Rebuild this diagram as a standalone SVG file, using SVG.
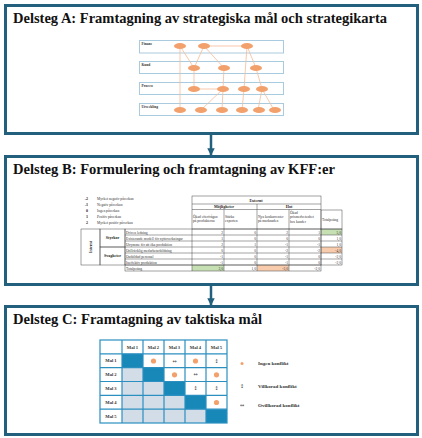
<svg xmlns="http://www.w3.org/2000/svg" width="422" height="438" viewBox="0 0 422 438">
<style>
.box{fill:#fff;stroke:#22607e;stroke-width:3}
.title{font-family:"Liberation Serif","Times New Roman",serif;font-weight:bold;font-size:15px;fill:#111}
.band{fill:#fff;stroke:#a9cbe0;stroke-width:1}
.bl{font-family:"Liberation Serif",serif;font-weight:bold;font-size:3.6px;fill:#333}
.ell{fill:#f2a16d}
.ln{stroke:#f5bb98;stroke-width:0.8;fill:none}
.conn{stroke:#22607e;stroke-width:2.5;fill:none}
.t{font-family:"Liberation Serif",serif;font-size:3.6px;fill:#333}
.tb{font-family:"Liberation Serif",serif;font-weight:bold;font-size:4px;fill:#222}
.n{font-family:"Liberation Serif",serif;font-size:3.6px;fill:#333;text-anchor:end}
.c{fill:none;stroke:#444;stroke-width:0.5}
.g{stroke:#2b8fc0;stroke-width:1.2;fill:none}
.mh{font-family:"Liberation Serif",serif;font-weight:bold;font-size:4.6px;fill:#333;text-anchor:middle}
.dot{fill:#f2a16d}
.sym{font-family:"DejaVu Sans",sans-serif;font-size:5px;fill:#444;text-anchor:middle}
.lg{font-family:"Liberation Serif",serif;font-weight:bold;font-size:5px;fill:#333}
</style>
<defs>
<marker id="ah" viewBox="0 0 10 10" refX="9" refY="5" markerWidth="3" markerHeight="3" orient="auto" markerUnits="strokeWidth">
<path d="M0,0 L10,5 L0,10 z" fill="#22607e"/>
</marker>
</defs>

<g id="connectors">
<line class="conn" x1="211" y1="134" x2="211" y2="155" marker-end="url(#ah)"/>
<line class="conn" x1="211" y1="285" x2="211" y2="305" marker-end="url(#ah)"/>
</g>

<g id="stepA">
<rect class="box" x="5.5" y="5.5" width="412" height="128"/>
<text class="title" x="13" y="23" textLength="374" lengthAdjust="spacingAndGlyphs">Delsteg A: Framtagning av strategiska mål och strategikarta</text>
<rect class="band" x="139.5" y="40.5" width="144" height="12.5"/>
<rect class="band" x="139.5" y="61.5" width="144" height="12"/>
<rect class="band" x="139.5" y="82.5" width="144" height="12"/>
<rect class="band" x="139.5" y="103.5" width="144" height="12"/>
<text class="bl" x="141.5" y="45">Finans</text>
<text class="bl" x="141.5" y="66">Kund</text>
<text class="bl" x="141.5" y="87">Process</text>
<text class="bl" x="141.5" y="108">Utveckling</text>
<g>
<line class="ln" x1="180" y1="46" x2="180" y2="110"/>
<line class="ln" x1="180" y1="46" x2="194" y2="68"/>
<line class="ln" x1="204" y1="46" x2="194" y2="68"/>
<line class="ln" x1="204" y1="46" x2="224" y2="68"/>
<line class="ln" x1="204" y1="46" x2="247" y2="46"/>
<line class="ln" x1="247" y1="46" x2="244" y2="89"/>
<line class="ln" x1="247" y1="46" x2="256" y2="68"/>
<line class="ln" x1="256" y1="68" x2="262" y2="89"/>
<line class="ln" x1="194" y1="68" x2="194" y2="89"/>
<line class="ln" x1="224" y1="68" x2="223" y2="89"/>
<line class="ln" x1="194" y1="89" x2="223" y2="89"/>
<line class="ln" x1="223" y1="89" x2="201" y2="110"/>
<line class="ln" x1="223" y1="89" x2="222" y2="110"/>
<line class="ln" x1="244" y1="89" x2="242" y2="110"/>
<line class="ln" x1="262" y1="89" x2="258" y2="110"/>
<line class="ln" x1="262" y1="89" x2="274" y2="110"/>
</g>
<g>
<ellipse class="ell" cx="180" cy="46" rx="6" ry="3"/>
<ellipse class="ell" cx="204" cy="46" rx="6" ry="3"/>
<ellipse class="ell" cx="247" cy="46" rx="6" ry="3"/>
<ellipse class="ell" cx="194" cy="68" rx="6" ry="3"/>
<ellipse class="ell" cx="224" cy="68" rx="6" ry="3"/>
<ellipse class="ell" cx="256" cy="68" rx="6" ry="3"/>
<ellipse class="ell" cx="194" cy="89" rx="6" ry="3"/>
<ellipse class="ell" cx="223" cy="89" rx="6" ry="3"/>
<ellipse class="ell" cx="244" cy="89" rx="6" ry="3"/>
<ellipse class="ell" cx="262" cy="89" rx="6" ry="3"/>
<ellipse class="ell" cx="180" cy="110" rx="6" ry="3"/>
<ellipse class="ell" cx="201" cy="110" rx="6" ry="3"/>
<ellipse class="ell" cx="222" cy="110" rx="6" ry="3"/>
<ellipse class="ell" cx="242" cy="110" rx="6" ry="3"/>
<ellipse class="ell" cx="259" cy="110" rx="6" ry="3"/>
<ellipse class="ell" cx="275" cy="110" rx="6" ry="3"/>
</g>
</g>

<g id="stepB">
<rect class="box" x="5.5" y="156.5" width="412" height="128"/>
<text class="title" x="13" y="174" textLength="322" lengthAdjust="spacingAndGlyphs">Delsteg B: Formulering och framtagning av KFF:er</text>
<text class="tb" x="88" y="199.5" text-anchor="end">-2</text><text class="t" x="97" y="199.5">Mycket negativ påverkan</text>
<text class="tb" x="88" y="205.5" text-anchor="end">-1</text><text class="t" x="97" y="205.5">Negativ påverkan</text>
<text class="tb" x="88" y="211.8" text-anchor="end">0</text><text class="t" x="97" y="211.8">Ingen påverkan</text>
<text class="tb" x="88" y="218" text-anchor="end">1</text><text class="t" x="97" y="218">Positiv påverkan</text>
<text class="tb" x="88" y="224.3" text-anchor="end">2</text><text class="t" x="97" y="224.3">Mycket positiv påverkan</text>
<rect x="321" y="229" width="21" height="6" fill="#c6e0b4"/>
<rect x="321" y="247" width="21" height="6" fill="#f8cbad"/>
<rect x="192" y="265" width="32" height="6" fill="#c6e0b4"/>
<rect x="257" y="265" width="32" height="6" fill="#f8cbad"/>
<rect class="c" x="192" y="196" width="129" height="33"/>
<line class="c" x1="192" y1="204" x2="321" y2="204"/>
<line class="c" x1="192" y1="209.5" x2="321" y2="209.5"/>
<line class="c" x1="257" y1="204" x2="257" y2="229"/>
<line class="c" x1="224" y1="209.5" x2="224" y2="229"/>
<line class="c" x1="289" y1="209.5" x2="289" y2="229"/>
<rect class="c" x="321" y="210" width="21" height="19"/>
<text class="tb" x="256" y="202" text-anchor="middle" font-size="5.5">Externt</text>
<text class="tb" x="224" y="208" text-anchor="middle" font-size="3.8">Möjligheter</text>
<text class="tb" x="289" y="208" text-anchor="middle" font-size="3.8">Hot</text>
<text class="t" x="193" y="218">Ökad efterfrågan</text><text class="t" x="193" y="222">på produkterna</text>
<text class="t" x="225" y="218">Stärka</text><text class="t" x="225" y="222">exporten</text>
<text class="t" x="258" y="218">Nya konkurrenter</text><text class="t" x="258" y="222">på marknaden</text>
<text class="t" x="290" y="213.5">Ökad</text><text class="t" x="290" y="218">prismedvetenhet</text><text class="t" x="290" y="222.5">hos kunder</text>
<text class="t" x="322" y="221">Totalpoäng</text>
<rect class="c" x="81" y="229" width="19" height="36" stroke-width="0.8"/>
<rect class="c" x="100" y="229" width="25" height="18"/>
<rect class="c" x="100" y="247" width="25" height="18"/>
<rect class="c" x="125" y="229" width="196" height="36"/>
<rect class="c" x="321" y="229" width="21" height="36"/>
<line class="c" x1="125" y1="235" x2="342" y2="235"/>
<line class="c" x1="125" y1="241" x2="342" y2="241"/>
<line class="c" x1="125" y1="247" x2="342" y2="247"/>
<line class="c" x1="125" y1="253" x2="342" y2="253"/>
<line class="c" x1="125" y1="259" x2="342" y2="259"/>
<line class="c" x1="192" y1="229" x2="192" y2="271"/>
<line class="c" x1="224" y1="229" x2="224" y2="271"/>
<line class="c" x1="257" y1="229" x2="257" y2="271"/>
<line class="c" x1="289" y1="229" x2="289" y2="271"/>
<rect class="c" x="125" y="265" width="196" height="6"/>
<text class="tb" transform="translate(92,247) rotate(-90)" text-anchor="middle" font-size="5.5">Internt</text>
<text class="tb" x="112.5" y="239" text-anchor="middle" font-size="3.8">Styrkor</text>
<text class="tb" x="112.5" y="257" text-anchor="middle" font-size="3.8">Svagheter</text>
<text class="t" x="126" y="233.7">Driven ledning</text>
<text class="t" x="126" y="239.7">Existerande modell för nyttoverkningar</text>
<text class="t" x="126" y="245.7">Utrymme för att öka produktion</text>
<text class="t" x="126" y="251.7">Otillräcklig medarbetarbildning</text>
<text class="t" x="126" y="257.7">Outbildad personal</text>
<text class="t" x="126" y="263.7">Ineffektiv produktion</text>
<text class="t" x="126" y="269.7">Totalpoäng</text>
<g>
<text class="n" x="223" y="233.7">2</text><text class="n" x="256" y="233.7">0</text><text class="n" x="288" y="233.7">2</text><text class="n" x="320" y="233.7">1</text><text class="n" x="341" y="233.7">5,0</text>
<text class="n" x="223" y="239.7">1</text><text class="n" x="256" y="239.7">0</text><text class="n" x="288" y="239.7">0</text><text class="n" x="320" y="239.7">0</text><text class="n" x="341" y="239.7">1,0</text>
<text class="n" x="223" y="245.7">2</text><text class="n" x="256" y="245.7">1</text><text class="n" x="288" y="245.7">-1</text><text class="n" x="320" y="245.7">-1</text><text class="n" x="341" y="245.7">1,0</text>
<text class="n" x="223" y="251.7">0</text><text class="n" x="256" y="251.7">0</text><text class="n" x="288" y="251.7">-2</text><text class="n" x="320" y="251.7">-2</text><text class="n" x="341" y="251.7">-4,0</text>
<text class="n" x="223" y="257.7">-1</text><text class="n" x="256" y="257.7">0</text><text class="n" x="288" y="257.7">-1</text><text class="n" x="320" y="257.7">0</text><text class="n" x="341" y="257.7">-2,0</text>
<text class="n" x="223" y="263.7">-1</text><text class="n" x="256" y="263.7">0</text><text class="n" x="288" y="263.7">-1</text><text class="n" x="320" y="263.7">0</text><text class="n" x="341" y="263.7">-2,0</text>
<text class="n" x="223" y="269.7">3,0</text><text class="n" x="256" y="269.7">1,0</text><text class="n" x="288" y="269.7">-3,0</text><text class="n" x="320" y="269.7">-2,0</text>
</g>
</g>

<g id="stepC">
<rect class="box" x="5.5" y="306.5" width="412" height="128"/>
<text class="title" x="13" y="324" textLength="249" lengthAdjust="spacingAndGlyphs">Delsteg C: Framtagning av taktiska mål</text>
<g fill="#d3dde8">
<rect x="122" y="367.7" width="21" height="13.8"/>
<rect x="122" y="381.5" width="21" height="13.8"/><rect x="143" y="381.5" width="21" height="13.8"/>
<rect x="122" y="395.3" width="21" height="13.8"/><rect x="143" y="395.3" width="21" height="13.8"/><rect x="164" y="395.3" width="21" height="13.8"/>
<rect x="122" y="409.2" width="21" height="13.8"/><rect x="143" y="409.2" width="21" height="13.8"/><rect x="164" y="409.2" width="21" height="13.8"/><rect x="185" y="409.2" width="21" height="13.8"/>
</g>
<g fill="#1888b8">
<rect x="122" y="353.8" width="21" height="13.9"/>
<rect x="143" y="367.7" width="21" height="13.8"/>
<rect x="164" y="381.5" width="21" height="13.8"/>
<rect x="185" y="395.3" width="21" height="13.9"/>
<rect x="206" y="409.2" width="21" height="13.8"/>
</g>
<g class="g">
<rect x="100" y="340" width="127" height="83"/>
<line x1="122" y1="340" x2="122" y2="423"/>
<line x1="143" y1="340" x2="143" y2="423"/>
<line x1="164" y1="340" x2="164" y2="423"/>
<line x1="185" y1="340" x2="185" y2="423"/>
<line x1="206" y1="340" x2="206" y2="423"/>
<line x1="100" y1="353.8" x2="227" y2="353.8"/>
<line x1="100" y1="367.7" x2="227" y2="367.7"/>
<line x1="100" y1="381.5" x2="227" y2="381.5"/>
<line x1="100" y1="395.3" x2="227" y2="395.3"/>
<line x1="100" y1="409.2" x2="227" y2="409.2"/>
</g>
<text class="mh" x="132.5" y="348.5">Mål 1</text>
<text class="mh" x="153.5" y="348.5">Mål 2</text>
<text class="mh" x="174.5" y="348.5">Mål 3</text>
<text class="mh" x="195.5" y="348.5">Mål 4</text>
<text class="mh" x="216.5" y="348.5">Mål 5</text>
<text class="mh" x="111" y="362.4">Mål 1</text>
<text class="mh" x="111" y="376.2">Mål 2</text>
<text class="mh" x="111" y="390">Mål 3</text>
<text class="mh" x="111" y="403.9">Mål 4</text>
<text class="mh" x="111" y="417.7">Mål 5</text>
<circle class="dot" cx="153.5" cy="361" r="2.6"/>
<text class="sym" x="174.5" y="362.6">↔</text>
<circle class="dot" cx="195.5" cy="361" r="2.6"/>
<text class="sym" x="216.5" y="362.6">↕</text>
<circle class="dot" cx="174.5" cy="374.8" r="2.6"/>
<text class="sym" x="195.5" y="376.4">↔</text>
<circle class="dot" cx="216.5" cy="374.8" r="2.6"/>
<text class="sym" x="195.5" y="390.2">↕</text>
<text class="sym" x="216.5" y="390.2">↕</text>
<circle class="dot" cx="216.5" cy="402.5" r="2.6"/>
<circle class="dot" cx="242" cy="363.5" r="1.5"/>
<text class="lg" x="258" y="365">Ingen konflikt</text>
<text class="sym" x="242" y="388">↕</text>
<text class="lg" x="258" y="388">Villkorad konflikt</text>
<text class="sym" x="242" y="406.5">↔</text>
<text class="lg" x="258" y="406.5">Ovillkorad konflikt</text>
</g>
</svg>
